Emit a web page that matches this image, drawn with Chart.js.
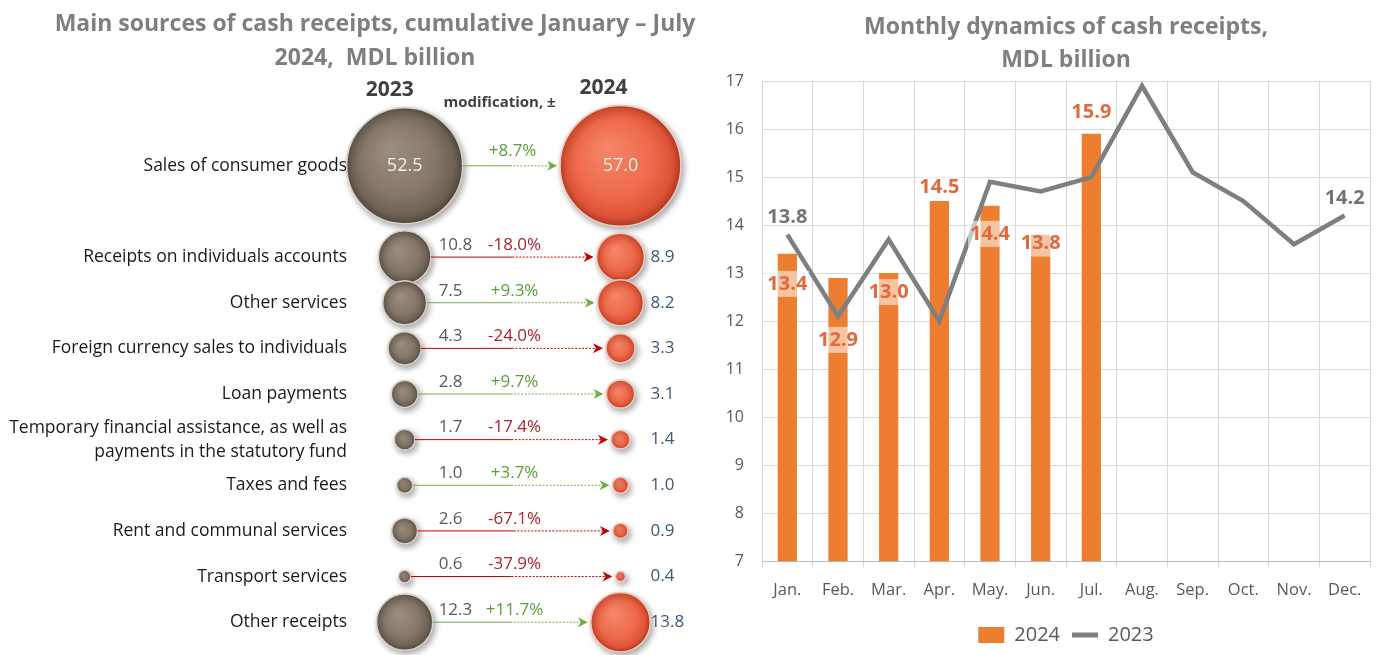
<!DOCTYPE html>
<html>
<head>
<meta charset="utf-8">
<script src="https://cdn.jsdelivr.net/npm/chart.js"></script>
<style>
  html, body { margin: 0; padding: 0; background: #fff; }
  #wrap { position: relative; width: 1376px; height: 655px; overflow: hidden; }
  .box { position: absolute; top: 0; height: 655px; }
  #left { left: 0; width: 750px; }
  #right { left: 690px; width: 686px; }
</style>
</head>
<body>
<div id="wrap">
  <div class="box" id="left"><canvas id="sourcesChart"></canvas></div>
  <div class="box" id="right"><canvas id="monthlyChart"></canvas></div>
</div>

<script>
// left panel: sources, Jan-Jul cumulative
const sourceLabels = [
  'Sales of consumer goods',
  'Receipts on individuals accounts',
  'Other services',
  'Foreign currency sales to individuals',
  'Loan payments',
  ['Temporary financial assistance, as well as', 'payments in the statutory fund'],
  'Taxes and fees',
  'Rent and communal services',
  'Transport services',
  'Other receipts'
];
const receipts2023 = [52.5, 10.8, 7.5, 4.3, 2.8, 1.7, 1.0, 2.6, 0.6, 12.3];
const receipts2024 = [57.0, 8.9, 8.2, 3.3, 3.1, 1.4, 1.0, 0.9, 0.4, 13.8];
const changePct = [8.7, -18.0, 9.3, -24.0, 9.7, -17.4, 3.7, -67.1, -37.9, 11.7];

// right panel: monthly
const months = ['Jan.', 'Feb.', 'Mar.', 'Apr.', 'May.', 'Jun.', 'Jul.', 'Aug.', 'Sep.', 'Oct.', 'Nov.', 'Dec.'];
const monthly2024 = [13.4, 12.9, 13.0, 14.5, 14.4, 13.8, 15.9, null, null, null, null, null];
const monthly2023 = [13.8, 12.1, 13.7, 12.0, 14.9, 14.7, 15.0, 16.9, 15.1, 14.5, 13.6, 14.2];

const FONT = "'Open Sans', Lato, sans-serif";
Chart.defaults.font.family = FONT;

// big first row gets an empty slot under it
const rowSlots = [sourceLabels[0], ''].concat(sourceLabels.slice(1));
const radius = v => 8 * Math.sqrt(v);

function sphereFill(stops) {
  return function(ctx) {
    if (ctx.type !== 'data' || !ctx.parsed || !ctx.raw) return stops[1];
    const chart = ctx.chart;
    const x = chart.scales.x.getPixelForValue(ctx.parsed.x);
    const y = chart.scales.y.getPixelForValue(ctx.parsed.y);
    const r = ctx.raw.r;
    if (![x, y, r].every(Number.isFinite) || r <= 0) return stops[1];
    const g = chart.ctx.createRadialGradient(x - r * 0.25, y - r * 0.3, 0, x, y, r * 1.05);
    g.addColorStop(0, stops[0]);
    g.addColorStop(0.6, stops[1]);
    g.addColorStop(0.85, stops[2]);
    g.addColorStop(1, stops[3]);
    return g;
  };
}

const sourcesDecor = {
  id: 'sourcesDecor',
  beforeDatasetsDraw(chart) {
    const c = chart.ctx;
    c.save();
    c.shadowColor = 'rgba(0,0,0,0.35)';
    c.shadowBlur = 6;
    c.shadowOffsetX = 2;
    c.shadowOffsetY = 3;
  },
  afterDatasetsDraw(chart) {
    chart.ctx.restore();
  },
  afterDraw(chart) {
    const c = chart.ctx, xs = chart.scales.x, ys = chart.scales.y;
    const x0 = xs.getPixelForValue(2023), x1 = xs.getPixelForValue(2024);
    c.save();
    c.textAlign = 'center';
    c.textBaseline = 'middle';
    c.fillStyle = '#7f7f7f';
    c.font = 'bold 23px ' + FONT;
    c.fillText('Main sources of cash receipts, cumulative January – July', 375, 24);
    c.fillText('2024,  MDL billion', 375, 58);

    c.fillStyle = '#404040';
    c.font = 'bold 21px ' + FONT;
    c.fillText('2023', x0 - 15, 90);
    c.fillText('2024', x1 - 17, 88);
    c.font = 'bold 15px ' + FONT;
    c.fillText('modification, ±', (x0 + x1) / 2 - 13, 103);

    receipts2023.forEach((v, i) => {
      const py = ys.getPixelForValue(rowSlots.indexOf(sourceLabels[i]));
      const r0 = radius(v), r1 = radius(receipts2024[i]);
      const up = changePct[i] >= 0;
      const col = up ? '#70ad47' : '#c00000';
      const a = x0 + r0, b = x1 - r1 - 3;
      const mid = a + (b - a) * 0.5;

      c.strokeStyle = col;
      c.lineWidth = 1;
      c.beginPath(); c.moveTo(a, py); c.lineTo(mid, py); c.stroke();
      c.setLineDash([2, 1.5]);
      c.beginPath(); c.moveTo(mid, py); c.lineTo(b - 6, py); c.stroke();
      c.setLineDash([]);
      c.fillStyle = col;
      c.beginPath();
      c.moveTo(b, py); c.lineTo(b - 10, py - 5); c.lineTo(b - 7, py); c.lineTo(b - 10, py + 5);
      c.closePath(); c.fill();

      const pct = (up ? '+' : '-') + Math.abs(changePct[i]).toFixed(1) + '%';
      c.font = '17px ' + FONT;
      c.fillStyle = up ? '#5a9e3a' : '#b0222c';
      c.textAlign = 'center';
      if (i === 0) {
        c.fillText(pct, (x0 + x1) / 2, py - 15);
        c.fillStyle = '#f2eeea';
        c.font = '18px ' + FONT;
        c.fillText(v.toFixed(1), x0, py);
        c.fillText(receipts2024[i].toFixed(1), x1, py);
      } else {
        c.fillText(pct, (x0 + x1) / 2 + 2, py - 12);
        c.textAlign = 'left';
        c.fillStyle = '#595959';
        c.fillText(v.toFixed(1), x0 + 34, py - 12);
        c.fillStyle = '#3f5875';
        c.fillText(receipts2024[i].toFixed(1), x1 + 30, py);
      }
    });
    c.restore();
  }
};

new Chart(document.getElementById('sourcesChart'), {
  type: 'bubble',
  data: {
    yLabels: rowSlots,
    datasets: [
      {
        label: '2023',
        data: receipts2023.map((v, i) => ({ x: 2023, y: sourceLabels[i], r: radius(v) })),
        backgroundColor: sphereFill(['#9c8f80', '#85786a', '#6e6255', '#4a4037']),
        borderColor: '#d8d2cb',
        borderWidth: 1.5,
        clip: false
      },
      {
        label: '2024',
        data: receipts2024.map((v, i) => ({ x: 2024, y: sourceLabels[i], r: radius(v) })),
        backgroundColor: sphereFill(['#f6876a', '#ee6a4c', '#de5336', '#a6341f']),
        borderColor: '#f5c9bc',
        borderWidth: 1.5,
        clip: false
      }
    ]
  },
  options: {
    responsive: true,
    maintainAspectRatio: false,
    animation: false,
    layout: { autoPadding: false, padding: { top: 143, bottom: 10, left: 0, right: 0 } },
    scales: {
      x: { type: 'linear', min: 2022.77, max: 2024.6, display: false },
      y: {
        type: 'category',
        offset: true,
        grid: { display: false, drawTicks: false },
        border: { display: false },
        ticks: { autoSkip: false, color: '#1a1a1a', font: { size: 17.5, lineHeight: 1.38 }, padding: 8 },
        afterFit: s => { s.width = 355; s.paddingTop = 0; s.paddingBottom = 0; }
      }
    },
    plugins: {
      legend: { display: false },
      tooltip: { enabled: false }
    }
  },
  plugins: [sourcesDecor]
});

// monthly chart labels and title
const barLabelShift = [30, 62, 19, -14, 28, 9, -22];
const monthlyDecor = {
  id: 'monthlyDecor',
  afterDatasetsDraw(chart) {
    const c = chart.ctx, xs = chart.scales.x, ys = chart.scales.y, area = chart.chartArea;
    c.save();
    c.textAlign = 'center';
    c.textBaseline = 'middle';
    c.font = 'bold 20px ' + FONT;
    monthly2024.forEach((v, i) => {
      if (v == null) return;
      const px = xs.getPixelForValue(i);
      const py = ys.getPixelForValue(v) + barLabelShift[i];
      const t = v.toFixed(1);
      const w = c.measureText(t).width + 4;
      c.fillStyle = 'rgba(255,255,255,0.55)';
      c.fillRect(px - w / 2, py - 13, w, 26);
      c.fillStyle = '#e4683f';
      c.fillText(t, px, py);
    });
    c.fillStyle = '#737373';
    [0, monthly2023.length - 1].forEach(i => {
      const px = xs.getPixelForValue(i);
      const py = ys.getPixelForValue(monthly2023[i]) - 17;
      c.fillText(monthly2023[i].toFixed(1), px, py);
    });
    c.fillStyle = '#7f7f7f';
    c.font = 'bold 23px ' + FONT;
    const cx = (area.left + area.right) / 2;
    c.fillText('Monthly dynamics of cash receipts,', cx, 27);
    c.fillText('MDL billion', cx, 60);
    c.restore();
  }
};

new Chart(document.getElementById('monthlyChart'), {
  type: 'bar',
  data: {
    labels: months,
    datasets: [
      {
        label: '2024',
        data: monthly2024,
        backgroundColor: '#ed7d31',
        barPercentage: 0.38,
        categoryPercentage: 1,
        pointStyle: 'rect',
        order: 1
      },
      {
        type: 'line',
        label: '2023',
        data: monthly2023,
        borderColor: '#7f7f7f',
        backgroundColor: '#7f7f7f',
        borderWidth: 4.5,
        pointRadius: 0,
        pointBorderWidth: 5,
        pointStyle: 'line',
        tension: 0,
        order: 0
      }
    ]
  },
  options: {
    responsive: true,
    maintainAspectRatio: false,
    animation: false,
    layout: { padding: { top: 81, right: 6, left: 0, bottom: 0 } },
    scales: {
      x: {
        grid: { color: '#d9d9d9', offset: true, tickLength: 6 },
        border: { color: '#bfbfbf' },
        ticks: { color: '#595959', font: { size: 16.5 }, padding: 13 }
      },
      y: {
        min: 7,
        max: 17,
        ticks: { stepSize: 1, color: '#595959', font: { size: 16 }, padding: 18 },
        grid: { color: '#d9d9d9', drawTicks: false },
        border: { display: false },
        afterFit: s => { s.width = 72; }
      }
    },
    plugins: {
      legend: {
        position: 'bottom',
        fullSize: false,
        labels: {
          usePointStyle: true,
          pointStyleWidth: 26,
          boxHeight: 16,
          color: '#595959',
          font: { size: 20 },
          padding: 12,
          sort: (a, b) => a.datasetIndex - b.datasetIndex
        }
      },
      tooltip: { enabled: false }
    }
  },
  plugins: [monthlyDecor]
});
</script>
</body>
</html>
